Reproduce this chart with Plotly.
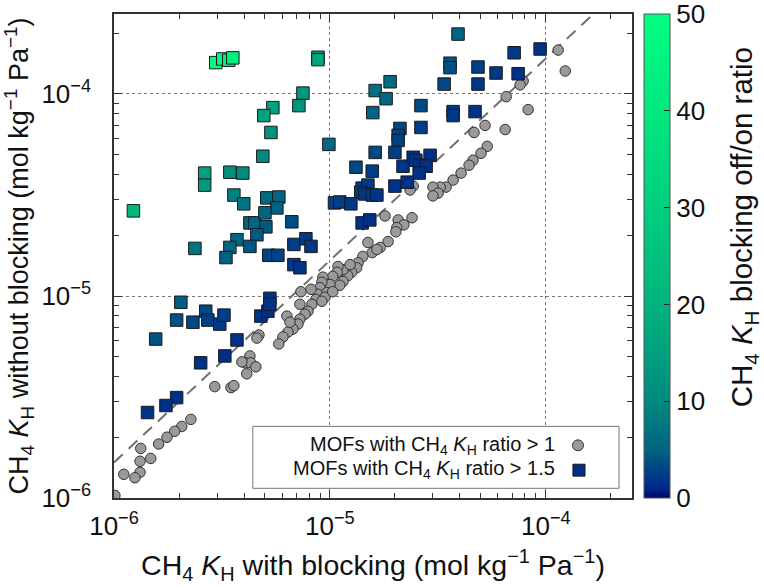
import plotly.graph_objects as go

# ---- data ----
# gray circles: MOFs with CH4 KH ratio > 1
circ_x = [1.14e-4, 1.23e-4, 7.85e-5, 7.60e-5, 6.55e-5, 8.28e-5, 5.23e-5, 4.65e-5, 6.48e-5, 5.35e-5,
          5.01e-5, 4.60e-5, 4.41e-5, 4.05e-5, 3.72e-5, 3.45e-5, 3.24e-5, 3.00e-5, 3.17e-5, 3.00e-5,
          2.43e-5, 2.35e-5, 1.80e-5, 2.07e-5, 2.40e-5, 2.20e-5, 2.04e-5, 2.02e-5, 1.86e-5, 1.71e-5,
          1.57e-5, 1.50e-5, 1.42e-5, 1.35e-5, 1.33e-5, 1.26e-5, 1.21e-5, 1.15e-5, 1.09e-5, 1.08e-5,
          1.03e-5, 1.15e-5, 1.11e-5, 1.00e-5, 1.24e-5, 9.28e-6, 9.18e-6, 8.99e-6, 8.80e-6, 8.61e-6,
          8.25e-6, 7.91e-6, 7.66e-6, 7.26e-6, 7.11e-6, 6.74e-6, 6.39e-6, 6.06e-6, 5.80e-6, 9.68e-6,
          9.48e-6, 9.18e-6, 1.03e-5, 7.34e-6, 8.17e-6, 7.26e-6, 6.32e-6, 6.53e-6, 4.69e-6, 4.59e-6,
          4.26e-6, 4.04e-6, 4.30e-6, 4.54e-6, 4.12e-6, 3.91e-6, 2.93e-6, 3.48e-6, 3.59e-6, 2.27e-6,
          2.06e-6, 1.91e-6, 1.76e-6, 1.61e-6, 1.33e-6, 1.48e-6, 1.32e-6, 1.32e-6, 1.25e-6, 1.11e-6,
          1.01e-6, 1.65e-5]
circ_y = [1.65e-4, 1.30e-4, 1.16e-4, 1.11e-4, 9.70e-5, 8.37e-5, 6.99e-5, 6.45e-5, 6.67e-5, 5.51e-5,
          5.09e-5, 4.70e-5, 4.44e-5, 4.06e-5, 3.75e-5, 3.46e-5, 3.46e-5, 3.46e-5, 3.23e-5, 3.13e-5,
          3.50e-5, 3.35e-5, 2.49e-5, 2.38e-5, 2.44e-5, 2.25e-5, 2.18e-5, 2.08e-5, 1.86e-5, 1.74e-5,
          1.64e-5, 1.84e-5, 1.57e-5, 1.46e-5, 1.38e-5, 1.31e-5, 1.26e-5, 1.35e-5, 1.40e-5, 1.31e-5,
          1.25e-5, 1.18e-5, 1.13e-5, 1.14e-5, 1.43e-5, 1.24e-5, 1.17e-5, 1.10e-5, 1.02e-5, 9.63e-6,
          9.10e-6, 8.41e-6, 8.13e-6, 7.68e-6, 7.26e-6, 6.86e-6, 6.63e-6, 6.27e-6, 5.79e-6, 1.04e-5,
          9.85e-6, 9.42e-6, 1.05e-5, 1.05e-5, 1.08e-5, 9.10e-6, 7.95e-6, 7.42e-6, 6.41e-6, 6.19e-6,
          5.05e-6, 4.67e-6, 4.67e-6, 4.46e-6, 4.12e-6, 4.72e-6, 3.56e-6, 3.52e-6, 3.60e-6, 2.45e-6,
          2.26e-6, 2.14e-6, 2.00e-6, 1.85e-6, 1.76e-6, 1.57e-6, 1.52e-6, 1.34e-6, 1.26e-6, 1.31e-6,
          1.03e-6, 1.70e-5]

# squares: MOFs with CH4 KH ratio > 1.5
sq_x = [2.96e-6, 3.19e-6, 3.40e-6, 3.55e-6, 8.80e-6, 8.80e-6, 1.23e-6, 7.50e-6, 7.18e-6, 5.44e-6,
        4.94e-6, 5.33e-6, 4.89e-6, 2.63e-6, 2.63e-6, 3.44e-6, 3.95e-6, 3.59e-6, 3.99e-6, 9.89e-6,
        5.10e-6, 5.80e-6, 5.68e-6, 4.26e-6, 4.49e-6, 5.00e-6, 5.05e-6, 4.59e-6, 6.66e-6, 2.37e-6,
        3.71e-6, 4.26e-6, 3.44e-6, 3.30e-6, 5.21e-6, 5.74e-6, 6.81e-6, 7.74e-6, 8.17e-6, 6.81e-6,
        7.26e-6, 1.62e-5, 1.82e-5, 1.90e-5, 1.58e-5, 3.92e-5, 9.41e-5, 7.13e-5, 3.60e-5, 3.60e-5,
        4.85e-5, 5.88e-5, 7.44e-5, 3.38e-5, 4.85e-5, 2.64e-5, 3.72e-5, 3.72e-5, 4.70e-5, 2.11e-5,
        2.07e-5, 2.07e-5, 2.64e-5, 1.62e-5, 2.00e-5, 1.32e-5, 1.57e-5, 2.18e-5, 2.43e-5, 2.50e-5,
        2.91e-5, 2.61e-5, 2.79e-5, 2.59e-5, 2.00e-5, 2.28e-5, 1.41e-5, 1.50e-5, 1.39e-5, 1.45e-5,
        1.57e-5, 1.65e-5, 1.05e-5, 1.11e-5, 1.25e-5, 1.41e-5, 1.53e-5, 2.04e-6, 1.95e-6, 2.32e-6,
        2.66e-6, 2.72e-6, 3.09e-6, 3.23e-6, 1.56e-6, 3.71e-6, 4.79e-6, 5.16e-6, 5.27e-6, 5.27e-6,
        2.52e-6, 3.26e-6, 1.95e-6, 1.74e-6, 1.43e-6]
sq_y = [1.43e-4, 1.49e-4, 1.47e-4, 1.51e-4, 1.52e-4, 1.48e-4, 2.64e-5, 1.01e-4, 8.76e-5, 8.56e-5,
        7.82e-5, 6.45e-5, 4.92e-5, 4.06e-5, 3.54e-5, 4.10e-5, 4.06e-5, 3.16e-5, 2.86e-5, 5.63e-5,
        3.06e-5, 3.09e-5, 2.73e-5, 2.30e-5, 2.30e-5, 2.58e-5, 2.20e-5, 2.01e-5, 2.33e-5, 1.72e-5,
        1.90e-5, 1.76e-5, 1.74e-5, 1.55e-5, 1.59e-5, 1.59e-5, 1.80e-5, 1.92e-5, 1.76e-5, 1.43e-5,
        1.38e-5, 1.04e-4, 9.48e-5, 1.15e-4, 8.09e-5, 1.98e-4, 1.67e-4, 1.60e-4, 1.42e-4, 1.35e-4,
        1.36e-4, 1.27e-4, 1.26e-4, 1.12e-4, 1.12e-4, 8.76e-5, 8.18e-5, 7.82e-5, 8.18e-5, 6.75e-5,
        6.24e-5, 5.89e-5, 6.83e-5, 5.14e-5, 5.14e-5, 4.34e-5, 4.15e-5, 4.39e-5, 4.86e-5, 4.70e-5,
        4.97e-5, 4.44e-5, 4.39e-5, 4.06e-5, 3.50e-5, 3.66e-5, 3.42e-5, 3.54e-5, 3.27e-5, 3.20e-5,
        3.16e-5, 3.16e-5, 2.89e-5, 2.92e-5, 2.86e-5, 2.30e-5, 2.38e-5, 9.31e-6, 7.60e-6, 7.42e-6,
        8.41e-6, 7.60e-6, 7.26e-6, 8.04e-6, 6.12e-6, 6.06e-6, 7.95e-6, 8.41e-6, 9.74e-6, 9.10e-6,
        4.67e-6, 5.05e-6, 3.14e-6, 2.87e-6, 2.65e-6]

# colour of each square = blocking off/on ratio (without / with blocking)
sq_ratio = [yy / xx for xx, yy in zip(sq_x, sq_y)]

line_x = [1.0e-6, 2.6e-4]
line_factor = 1.5
line_y = [v * line_factor for v in line_x]

major_ticks = [1e-6, 1e-5, 1e-4]
major_text = ["10<sup>−6</sup>", "10<sup>−5</sup>", "10<sup>−4</sup>"]
minor_ticks = [m * d for d in (1e-6, 1e-5, 1e-4) for m in range(2, 10)]
cbar_ticks = [0, 10, 20, 30, 40, 50]

FONT = "Liberation Sans, Arial, Helvetica, sans-serif"
TXT = "#111111"
cscale = [
    [0.0, "rgb(0,0,112)"],
    [0.02, "rgb(0,40,135)"],
    [0.05, "rgb(0,60,135)"],
    [0.1, "rgb(0,100,130)"],
    [0.2, "rgb(0,138,126)"],
    [0.3, "rgb(0,160,126)"],
    [0.4, "rgb(0,180,126)"],
    [0.6, "rgb(0,207,127)"],
    [0.8, "rgb(0,232,128)"],
    [1.0, "rgb(0,255,128)"],
]

fig = go.Figure()
fig.add_trace(go.Scatter(
    x=line_x, y=line_y, mode="lines",
    line=dict(color="#707070", width=2, dash="12px,8px"),
    showlegend=False, hoverinfo="skip"))
fig.add_trace(go.Scatter(
    x=circ_x, y=circ_y, mode="markers", name="MOFs with CH4 KH ratio > 1",
    marker=dict(symbol="circle", size=10.5, color="#9a9a9a",
                line=dict(color="#333333", width=1)),
    showlegend=False))
fig.add_trace(go.Scatter(
    x=sq_x, y=sq_y, mode="markers", name="MOFs with CH4 KH ratio > 1.5",
    marker=dict(symbol="square", size=12.5, color=sq_ratio, cmin=0, cmax=50.02,
                colorscale=cscale, line=dict(color="#1a1a1a", width=1),
                showscale=True,
                colorbar=dict(
                    x=1.023, xanchor="left", xpad=0, ypad=0, y=0.5, yanchor="middle",
                    len=1, lenmode="fraction", thickness=26,
                    outlinewidth=1, outlinecolor="#555555",
                    ticks="inside", ticklen=6, tickcolor="#222222",
                    tickmode="array", tickvals=cbar_ticks, ticktext=[str(v) for v in cbar_ticks],
                    ticklabeloverflow="allow",
                    tickfont=dict(size=26, family=FONT, color=TXT))),
    showlegend=False))

axis_common = dict(
    type="log", tickmode="array", tickvals=major_ticks, ticktext=major_text,
    ticks="inside", ticklen=8, tickwidth=1, tickcolor="#333333",
    showline=True, linecolor="#333333", linewidth=1.5, mirror="allticks",
    showgrid=True, gridcolor="#777777", griddash="dot", gridwidth=1,
    zeroline=False, tickfont=dict(size=26, family=FONT, color=TXT),
    minor=dict(tickvals=minor_ticks, ticks="inside", ticklen=5, tickwidth=1,
               tickcolor="#333333", showgrid=False),
)

fig.update_xaxes(**axis_common, range=[-6, -3.601], ticklabelstandoff=4,
                 title=dict(text="CH<sub>4</sub> <i>K</i><sub>H</sub> with blocking (mol kg<sup>−1</sup> Pa<sup>−1</sup>)",
                            font=dict(size=28.5, family=FONT, color=TXT), standoff=15))
fig.update_yaxes(**axis_common, range=[-6, -3.604], ticklabelstandoff=16,
                 title=dict(text="CH<sub>4</sub> <i>K</i><sub>H</sub> without blocking (mol kg<sup>−1</sup> Pa<sup>−1</sup>)",
                            font=dict(size=27, family=FONT, color=TXT), standoff=9))

# colour-bar title, placed to the right of the tick labels as in the reference
fig.add_annotation(xref="paper", yref="paper", x=1.217, y=0.56, xanchor="center", yanchor="middle",
                   textangle=-90, showarrow=False,
                   text="CH<sub>4</sub> <i>K</i><sub>H</sub> blocking off/on ratio",
                   font=dict(size=29.5, family=FONT, color=TXT))

# custom legend (text right-aligned, symbol on the right, as in the reference)
fig.add_shape(type="rect", xref="paper", yref="paper", x0=0.268, x1=0.975, y0=0.020, y1=0.148,
              line=dict(color="#777777", width=1), fillcolor="white", layer="above")
fig.add_annotation(xref="paper", yref="paper", x=0.856, y=0.109, xanchor="right", yanchor="middle",
                   showarrow=False, text="MOFs with CH<sub>4</sub> <i>K</i><sub>H</sub> ratio > 1",
                   font=dict(size=20, family=FONT, color=TXT))
fig.add_annotation(xref="paper", yref="paper", x=0.856, y=0.058, xanchor="right", yanchor="middle",
                   showarrow=False, text="MOFs with CH<sub>4</sub> <i>K</i><sub>H</sub> ratio > 1.5",
                   font=dict(size=20, family=FONT, color=TXT))
fig.add_shape(type="circle", xref="paper", yref="paper", x0=0.885, x1=0.9064, y0=0.0975, y1=0.1201,
              line=dict(color="#333333", width=1), fillcolor="#9a9a9a", layer="above")
fig.add_shape(type="rect", xref="paper", yref="paper", x0=0.886, x1=0.9093, y0=0.0452, y1=0.0698,
              line=dict(color="#1a1a1a", width=1), fillcolor="rgb(0,45,133)", layer="above")

fig.update_layout(
    width=764, height=588,
    margin=dict(l=114, r=132, t=13, b=88),
    plot_bgcolor="white", paper_bgcolor="white",
    font=dict(family=FONT, color=TXT),
)

# remove the browser's default 8px body margin so the figure starts at the page corner
fig.write_html("out.html", config={"displayModeBar": False},
               post_script="document.body.style.margin='0';")
